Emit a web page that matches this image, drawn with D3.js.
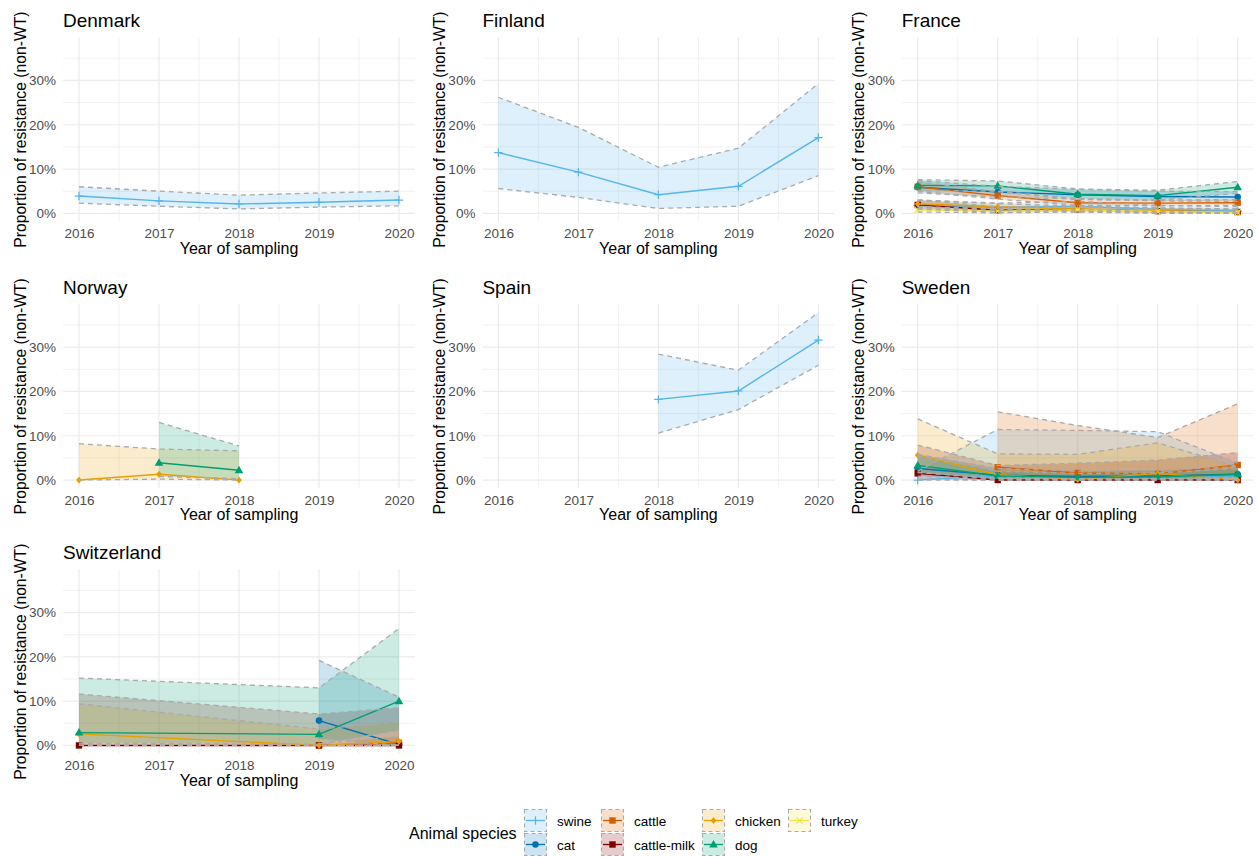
<!DOCTYPE html>
<html>
<head>
<meta charset="utf-8">
<script src="https://cdn.jsdelivr.net/npm/d3@7"></script>
<style>
  body { margin: 0; background: #fff; font-family: "Liberation Sans", Arial, sans-serif; }
</style>
</head>
<body>
<svg id="chart" width="1258" height="857"></svg>
<script>
// ---- data (percent non-WT, estimate with lower / upper CI) ----
const years = [2016, 2017, 2018, 2019, 2020];
const yTicks = [0, 10, 20, 30];
const species = ["swine", "cat", "cattle", "cattle-milk", "chicken", "dog", "turkey"];
const speciesColors = ["#56B4E9", "#0072B2", "#D55E00", "#800000", "#E69F00", "#009E73", "#F0E442"];
const speciesShapes = ["plus", "circle", "square", "square", "diamond", "triangle", "cross"];

const denmark = [
  { sp: "swine", yr: years, est: [3.9, 2.8, 2.1, 2.5, 3.0], lo: [2.3, 1.6, 1.0, 1.4, 1.7], hi: [6.0, 5.0, 4.1, 4.6, 5.0] }
];
const finland = [
  { sp: "swine", yr: years, est: [13.7, 9.3, 4.2, 6.1, 17.1], lo: [5.6, 3.6, 1.1, 1.6, 8.5], hi: [26.2, 19.4, 10.4, 14.7, 29.3] }
];
const france = [
  { sp: "swine", yr: years, est: [1.8, 1.3, 1.6, 0.9, 0.5], lo: [1.0, 0.7, 0.9, 0.4, 0.1], hi: [3.0, 2.3, 2.7, 1.8, 1.5] },
  { sp: "cat", yr: years, est: [5.9, 4.8, 4.2, 3.8, 3.7], lo: [4.6, 3.7, 3.2, 2.8, 2.7], hi: [7.4, 6.1, 5.4, 5.0, 4.9] },
  { sp: "cattle", yr: years, est: [6.0, 4.0, 2.4, 2.3, 2.4], lo: [5.0, 3.2, 1.8, 1.7, 1.8], hi: [7.1, 4.9, 3.1, 3.0, 3.1] },
  { sp: "cattle-milk", yr: years, est: [1.9, 0.7, 0.9, 0.5, 0.3], lo: [1.0, 0.2, 0.4, 0.1, 0.0], hi: [3.0, 1.5, 1.6, 1.2, 1.0] },
  { sp: "chicken", yr: years, est: [2.1, 1.5, 1.0, 0.6, 0.3], lo: [1.4, 0.9, 0.5, 0.2, 0.0], hi: [3.0, 2.2, 1.6, 1.2, 0.9] },
  { sp: "dog", yr: years, est: [6.3, 6.2, 4.3, 4.0, 5.9], lo: [5.1, 5.0, 3.3, 3.0, 4.5], hi: [7.6, 7.3, 5.5, 5.2, 7.2] },
  { sp: "turkey", yr: years, est: [0.8, 0.5, 0.8, 0.4, 0.2], lo: [0.3, 0.1, 0.3, 0.0, 0.0], hi: [1.5, 1.1, 1.5, 1.0, 0.8] }
];
const norway = [
  { sp: "chicken", yr: [2016, 2017, 2018], est: [0, 1.3, 0], lo: [0, 0.2, 0], hi: [8.2, 7.0, 6.6] },
  { sp: "dog", yr: [2017, 2018], est: [3.9, 2.2], lo: [0.8, 0.3], hi: [13.0, 7.7] }
];
const spain = [
  { sp: "swine", yr: [2018, 2019, 2020], est: [18.2, 20.1, 31.6], lo: [10.6, 15.9, 25.9], hi: [28.4, 24.8, 37.8] }
];
const sweden = [
  { sp: "swine", yr: years, est: [0, 1.0, 0.7, 0.8, 0.9], lo: [0, 0, 0, 0, 0], hi: [2.0, 11.4, 11.2, 10.9, 3.8] },
  { sp: "cat", yr: years, est: [2.6, 1.1, 0.8, 0.9, 1.3], lo: [0.9, 0.3, 0.2, 0.2, 0.4], hi: [5.8, 2.6, 2.0, 2.2, 3.0] },
  { sp: "cattle", yr: [2017, 2018, 2019, 2020], est: [2.9, 1.6, 1.4, 3.4], lo: [0.5, 0.2, 0.2, 0.6], hi: [15.4, 12.3, 9.6, 17.2] },
  { sp: "cattle-milk", yr: years, est: [1.5, 0, 0, 0, 0], lo: [0.2, 0, 0, 0, 0], hi: [7.9, 3.3, 3.8, 4.5, 6.2] },
  { sp: "chicken", yr: years, est: [5.6, 1.2, 0.1, 1.5, 0], lo: [1.8, 0.3, 0, 0.4, 0], hi: [13.8, 5.9, 5.8, 8.4, 3.0] },
  { sp: "dog", yr: years, est: [3.3, 0.9, 0.6, 0.7, 1.3], lo: [1.7, 0.4, 0.2, 0.3, 0.5], hi: [5.4, 2.0, 1.5, 1.6, 2.6] }
];
const switzerland = [
  { sp: "cat", yr: [2019, 2020], est: [5.6, 0.2], lo: [1.5, 0], hi: [19.2, 10.9] },
  { sp: "cattle", yr: [2019, 2020], est: [0, 0.6], lo: [0, 0], hi: [0.4, 2.0] },
  { sp: "cattle-milk", yr: [2016, 2019, 2020], est: [0, 0, 0], lo: [0, 0, 0], hi: [11.6, 7.1, 8.5] },
  { sp: "chicken", yr: [2016, 2019, 2020], est: [2.6, 0, 0.9], lo: [0.3, 0, 0.1], hi: [9.4, 3.7, 5.3] },
  { sp: "dog", yr: [2016, 2019, 2020], est: [2.9, 2.5, 10.0], lo: [0.5, 0.3, 3.4], hi: [15.2, 13.0, 26.4] }
];

const panels = [
  ["Denmark", denmark], ["Finland", finland], ["France", france],
  ["Norway", norway], ["Spain", spain], ["Sweden", sweden],
  ["Switzerland", switzerland]
];

// ---- layout ----
const svg = d3.select("#chart");
const W = 352, H = 184.2;
const colX = [63, 482.4, 901.7];
const rowY = [37.5, 304.2, 569.6];
const gridCol = "#ebebeb";
const ribbonLine = "#aaaaaa";

const color = d3.scaleOrdinal(species, speciesColors);
const shape = d3.scaleOrdinal(species, speciesShapes);

function symbolPath(s) {
  switch (s) {
    case "circle": return d3.symbol(d3.symbolCircle, 34)();
    case "square": return "M-3.2,-3.2h6.4v6.4h-6.4z";
    case "triangle": return "M0,-4.5L4.3,3L-4.3,3Z";
    case "diamond": return "M0,-3.4L2.9,0L0,3.4L-2.9,0Z";
    case "plus": return "M-4.2,0H4.2M0,-4.2V4.2";
    case "cross": return "M-3.2,-3.2L3.2,3.2M-3.2,3.2L3.2,-3.2";
  }
}
const stroked = s => s === "plus" || s === "cross";

function drawPoint(g, sp, px, py) {
  const s = shape(sp);
  g.append("path")
    .attr("d", symbolPath(s))
    .attr("transform", `translate(${px},${py})`)
    .attr("fill", stroked(s) ? "none" : color(sp))
    .attr("stroke", stroked(s) ? color(sp) : "none")
    .attr("stroke-width", 1.2);
}

const x = d3.scaleLinear().domain([2015.8, 2020.2]).range([0, W]);
const y = d3.scaleLinear().domain([-1.89, 39.69]).range([H, 0]);

panels.forEach(([name, series], i) => {
  const g = svg.append("g")
    .attr("transform", `translate(${colX[i % 3]},${rowY[Math.floor(i / 3)]})`);

  // grid (minor then major)
  const minorX = d3.range(2016.5, 2020, 1), minorY = [5, 15, 25, 35];
  g.selectAll(".mx").data(minorX).enter().append("line")
    .attr("x1", d => x(d)).attr("x2", d => x(d)).attr("y1", 0).attr("y2", H)
    .attr("stroke", gridCol).attr("stroke-width", 0.7);
  g.selectAll(".my").data(minorY).enter().append("line")
    .attr("x1", 0).attr("x2", W).attr("y1", d => y(d)).attr("y2", d => y(d))
    .attr("stroke", gridCol).attr("stroke-width", 0.7);
  g.selectAll(".gx").data(years).enter().append("line")
    .attr("x1", d => x(d)).attr("x2", d => x(d)).attr("y1", 0).attr("y2", H)
    .attr("stroke", gridCol).attr("stroke-width", 1.2);
  g.selectAll(".gy").data(yTicks).enter().append("line")
    .attr("x1", 0).attr("x2", W).attr("y1", d => y(d)).attr("y2", d => y(d))
    .attr("stroke", gridCol).attr("stroke-width", 1.2);

  // axes (labels only)
  const ya = g.append("g").call(d3.axisLeft(y).tickValues(yTicks).tickFormat(d => d + "%").tickSize(0).tickPadding(7));
  const xa = g.append("g").attr("transform", `translate(0,${H})`)
    .call(d3.axisBottom(x).tickValues(years).tickFormat(d3.format("d")).tickSize(0).tickPadding(7));
  [ya, xa].forEach(a => {
    a.select(".domain").remove();
    a.selectAll("text").attr("fill", "#4d4d4d").style("font-size", "13.5px")
      .style("font-family", '"Liberation Sans", Arial, sans-serif');
  });

  // titles
  g.append("text").attr("x", 0).attr("y", -10.5)
    .style("font-size", "19px").attr("fill", "#000").text(name);
  g.append("text").attr("x", W / 2).attr("y", 216).attr("text-anchor", "middle")
    .style("font-size", "16px").attr("fill", "#000").text("Year of sampling");
  g.append("text")
    .attr("transform", `translate(-37.5,${H / 2}) rotate(-90)`)
    .attr("text-anchor", "middle")
    .style("font-size", "15.7px").attr("fill", "#000")
    .text("Proportion of resistance (non-WT)");

  const rows = series.map(s => ({
    sp: s.sp,
    pts: s.yr.map((yr, k) => ({ yr, est: s.est[k], lo: s.lo[k], hi: s.hi[k] }))
  }));

  const area = d3.area().x(d => x(d.yr)).y0(d => y(d.lo)).y1(d => y(d.hi));
  const lineEst = d3.line().x(d => x(d.yr)).y(d => y(d.est));
  const lineLo = d3.line().x(d => x(d.yr)).y(d => y(d.lo));
  const lineHi = d3.line().x(d => x(d.yr)).y(d => y(d.hi));

  // ribbon fills
  rows.forEach(r => {
    g.append("path").attr("d", area(r.pts))
      .attr("fill", color(r.sp)).attr("fill-opacity", 0.2);
  });
  // estimate lines and points
  rows.forEach(r => {
    g.append("path").attr("d", lineEst(r.pts))
      .attr("fill", "none").attr("stroke", color(r.sp)).attr("stroke-width", 1.4);
    r.pts.forEach(p => drawPoint(g, r.sp, x(p.yr), y(p.est)));
  });
  // dashed ribbon outlines
  rows.forEach(r => {
    [lineLo, lineHi].forEach(fn => {
      g.append("path").attr("d", fn(r.pts))
        .attr("fill", "none").attr("stroke", ribbonLine)
        .attr("stroke-width", 1.3).attr("stroke-dasharray", "5,4");
    });
  });
});

// ---- legend ----
const legend = svg.append("g");
legend.append("text").attr("x", 409).attr("y", 839)
  .style("font-size", "16px").attr("fill", "#000").text("Animal species");

const keyX = [524, 601, 702, 788];
const keyY = [809, 833];
const key = 23;
species.forEach((sp, k) => {
  const kx = keyX[Math.floor(k / 2)], ky = keyY[k % 2];
  const kg = legend.append("g").attr("transform", `translate(${kx},${ky})`);
  kg.append("rect").attr("x", 0.5).attr("y", 0.5).attr("width", key - 1).attr("height", key - 1)
    .attr("fill", color(sp)).attr("fill-opacity", 0.2)
    .attr("stroke", ribbonLine).attr("stroke-width", 1.1).attr("stroke-dasharray", "4,3");
  kg.append("line").attr("x1", 2).attr("x2", key - 2).attr("y1", key / 2).attr("y2", key / 2)
    .attr("stroke", color(sp)).attr("stroke-width", 1.3);
  drawPoint(kg, sp, key / 2, key / 2);
  legend.append("text").attr("x", kx + 33).attr("y", ky + key / 2 + 5)
    .style("font-size", "13.5px").attr("fill", "#000").text(sp);
});
</script>
</body>
</html>
